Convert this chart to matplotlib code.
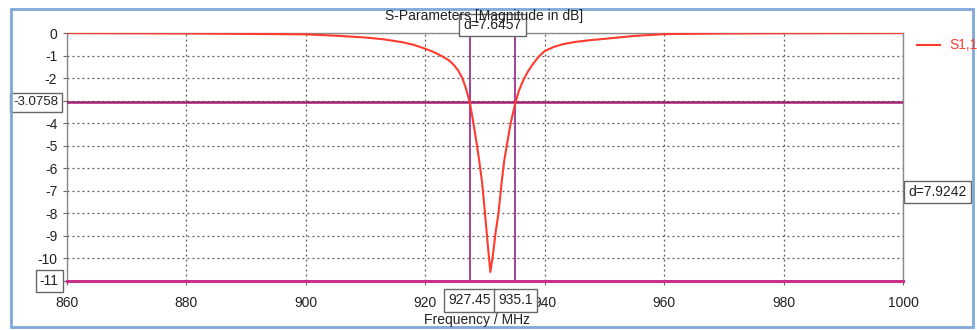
import numpy as np
import matplotlib
matplotlib.use('Agg')
import matplotlib.pyplot as plt
from matplotlib.patches import Rectangle

plt.rcParams['font.family'] = ['Liberation Sans', 'DejaVu Sans']

# S1,1 magnitude (MHz, dB)
freq = [860, 880, 890, 900, 905, 910, 913, 916, 918, 920, 921, 922, 923, 924,
        924.8, 925.5, 926.2, 926.8, 927.45, 928, 928.6, 929, 929.5, 930, 930.5,
        930.9, 931.3, 931.8, 932.25, 932.8, 933.2, 933.7, 934.3, 935.1, 935.7,
        936.4, 937.2, 938.1, 939, 940, 941.5, 943, 945, 947.5, 950, 955, 960,
        970, 980, 1000]
s11 = [0.0, -0.02, -0.04, -0.06, -0.12, -0.2, -0.28, -0.4, -0.52, -0.7, -0.8,
       -0.92, -1.06, -1.22, -1.42, -1.66, -2.0, -2.45, -3.08, -3.9, -4.9, -5.6,
       -6.6, -8.0, -9.5, -10.6, -9.9, -8.8, -8.0, -6.6, -5.7, -4.9, -4.0,
       -3.08, -2.55, -2.1, -1.7, -1.35, -1.05, -0.8, -0.62, -0.5, -0.4, -0.32,
       -0.26, -0.13, -0.05, -0.02, -0.01, 0.0]

marker_f = [927.45, 935.1]
marker_d = 7.6457
level_3db = -3.0758
level_min = -11
level_d = 7.9242
xticks = [860, 880, 900, 920, 940, 960, 980, 1000]
yticks = list(range(0, -12, -1))

fig = plt.figure(figsize=(9.77, 3.30), dpi=100)
ax = fig.add_axes([67/977, 49/330, 836/977, 248/330])

ax.plot(freq, s11, color='#ff3b30', lw=1.5, zorder=5, label='S1,1')

mcol = '#a8409a'
ax.axvline(marker_f[0], color=mcol, lw=1.4, zorder=4)
ax.axvline(marker_f[1], color=mcol, lw=1.4, zorder=4)
ax.axhline(level_3db, color='#a0226e', lw=1.8, zorder=4)
ax.axhline(level_min, color='#c8308a', lw=2.2, zorder=4, clip_on=False)

ax.set_xlim(860, 1000)
ax.set_ylim(-11, 0)
ax.set_xticks(xticks)
ax.set_xticklabels([str(t) for t in xticks])
ax.set_yticks(yticks)
ax.set_yticklabels(['' if t in (-3, -11) else str(t) for t in yticks])
ax.grid(True, color='#555555', ls=(0, (1.5, 2.5)), lw=0.9)
ax.tick_params(direction='out', length=3, color='#666666', labelsize=10,
               labelcolor='#222222', pad=4)
ax.tick_params(axis='x', pad=8)
for s in ax.spines.values():
    s.set_color('#8a8a8a')
    s.set_linewidth(1.0)

box = dict(boxstyle='square,pad=0.3', fc='white', ec='#666666', lw=1)
tk = dict(fontsize=10, color='#222222', bbox=box)
ax.annotate('%.4f' % level_3db, xy=(0, level_3db), xycoords=('axes fraction', 'data'),
            xytext=(-6, 0), textcoords='offset points', ha='right', va='center',
            fontsize=9.5, color='#222222',
            bbox=dict(boxstyle='square,pad=0.25', fc='white', ec='#666666', lw=1))
ax.annotate('%d' % level_min, xy=(0, level_min), xycoords=('axes fraction', 'data'),
            xytext=(-6, 0), textcoords='offset points', ha='right', va='center', **tk)
for f in marker_f:
    ax.annotate('%g' % f, xy=(f, 0), xycoords=('data', 'axes fraction'),
                xytext=(0, -14), textcoords='offset points', ha='center',
                va='center', **tk)
ax.annotate('d=%.4f' % marker_d,
            xy=(np.mean(marker_f), 1), xycoords=('data', 'axes fraction'),
            xytext=(0, 6), textcoords='offset points', ha='center',
            va='center', zorder=10, **tk)
ax.annotate('d=%.4f' % level_d,
            xy=(1, (level_3db + level_min) / 2), xycoords=('axes fraction', 'data'),
            xytext=(4, 0), textcoords='offset points', ha='left', va='center', **tk)

fig.text(484/977, 1 - 16/330, 'S-Parameters [Magnitude in dB]', ha='center',
         va='center', fontsize=10, color='#222222', zorder=1)
fig.text(477/977, 1 - 320/330, 'Frequency / MHz', ha='center', va='center',
         fontsize=10, color='#222222')

# legend entry at top right
fig.add_artist(plt.Line2D([917/977, 940/977], [1 - 45/330, 1 - 45/330],
                          color='#ff3b30', lw=1.5))
fig.text(949/977, 1 - 45/330, 'S1,1', ha='left', va='center', fontsize=10,
         color='#ff3b30')

# outer blue frame
fig.add_artist(Rectangle((11/977, 3/330), 962/977, 318/330, transform=fig.transFigure,
                         fill=False, ec='#7fa9d8', lw=2))

fig.savefig('out.png', dpi=100)
